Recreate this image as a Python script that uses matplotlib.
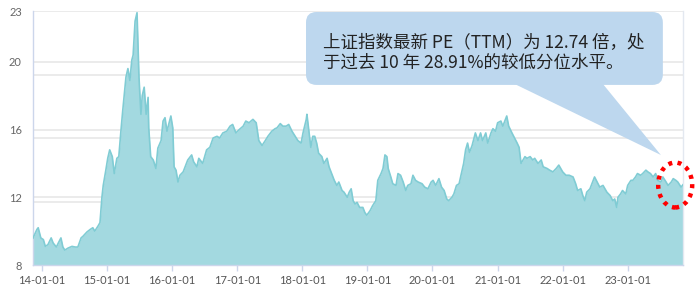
import numpy as np
import pandas as pd
import matplotlib
matplotlib.use("Agg")
import matplotlib.pyplot as plt
import matplotlib.dates as mdates
from matplotlib.patches import FancyBboxPatch, Polygon, Ellipse

# ---------------- data (decimal year, PE TTM) ----------------
t_year = [
    2013.86, 2013.92, 2013.94, 2013.98, 2014.02, 2014.05, 2014.09, 2014.14, 2014.17, 2014.22,
    2014.25, 2014.29, 2014.32, 2014.35, 2014.40, 2014.46, 2014.51, 2014.55, 2014.60, 2014.63,
    2014.69, 2014.74, 2014.78, 2014.81, 2014.86, 2014.89, 2014.92, 2014.94, 2014.98, 2015.01,
    2015.04, 2015.08, 2015.11, 2015.15, 2015.18, 2015.21, 2015.24, 2015.29, 2015.32, 2015.35,
    2015.38, 2015.40, 2015.43, 2015.46, 2015.49, 2015.52, 2015.54, 2015.57,
    2015.60, 2015.63, 2015.64, 2015.67, 2015.71, 2015.75, 2015.78, 2015.83, 2015.86, 2015.89,
    2015.92, 2015.95, 2015.98, 2016.01, 2016.03, 2016.06, 2016.09, 2016.12, 2016.17, 2016.20,
    2016.24, 2016.30, 2016.33, 2016.38, 2016.41, 2016.47, 2016.53, 2016.58, 2016.63, 2016.69,
    2016.73, 2016.78, 2016.84, 2016.89, 2016.93, 2016.98, 2017.03, 2017.09, 2017.13, 2017.18,
    2017.24,
    2017.29, 2017.33, 2017.38, 2017.43, 2017.47, 2017.53, 2017.58, 2017.61, 2017.66, 2017.70,
    2017.75, 2017.79, 2017.84, 2017.89, 2017.93, 2017.98, 2018.01, 2018.06, 2018.07, 2018.10,
    2018.13, 2018.16, 2018.19, 2018.22, 2018.25, 2018.30, 2018.33, 2018.38, 2018.41, 2018.45,
    2018.49, 2018.53, 2018.56, 2018.61, 2018.64, 2018.69, 2018.72, 2018.75, 2018.78, 2018.81,
    2018.84, 2018.88, 2018.93,
    2018.96, 2018.99, 2019.04, 2019.08, 2019.13, 2019.16, 2019.21, 2019.24, 2019.27, 2019.30,
    2019.32, 2019.36, 2019.39, 2019.44, 2019.47, 2019.51, 2019.55, 2019.59, 2019.62, 2019.67,
    2019.70, 2019.74, 2019.78, 2019.84, 2019.88, 2019.93, 2019.98, 2020.01, 2020.05, 2020.10,
    2020.14, 2020.18, 2020.22, 2020.25, 2020.30, 2020.33, 2020.37, 2020.41, 2020.45, 2020.48,
    2020.51, 2020.54, 2020.57, 2020.61,
    2020.66, 2020.70, 2020.74, 2020.77, 2020.82, 2020.85, 2020.90, 2020.93, 2020.97, 2021.00,
    2021.05, 2021.08, 2021.14, 2021.17, 2021.22, 2021.26, 2021.30, 2021.33, 2021.36, 2021.39,
    2021.42, 2021.45, 2021.50, 2021.54, 2021.57, 2021.62, 2021.67, 2021.70, 2021.76, 2021.80,
    2021.85, 2021.90, 2021.94, 2022.00, 2022.05, 2022.10, 2022.16, 2022.20, 2022.23, 2022.28,
    2022.31,
    2022.34, 2022.37, 2022.42, 2022.46, 2022.49, 2022.53, 2022.57, 2022.62, 2022.65, 2022.68,
    2022.73, 2022.77, 2022.80, 2022.83, 2022.85, 2022.89, 2022.92, 2022.97, 2023.00, 2023.05,
    2023.08, 2023.12, 2023.15, 2023.20, 2023.23, 2023.28, 2023.31, 2023.35, 2023.39, 2023.43,
    2023.46, 2023.51, 2023.54, 2023.59, 2023.62, 2023.67, 2023.70, 2023.74, 2023.77, 2023.82,
    2023.85,
]
pe_ttm = [
    9.59, 10.1, 10.2, 9.6, 9.5, 9.1, 9.2, 9.6, 9.3, 9.06,
    9.3, 9.6, 9.06, 8.88, 9.0, 9.1, 9.06, 9.06, 9.6, 9.7,
    9.95, 10.1, 10.2, 10.0, 10.3, 10.5, 12.0, 12.7, 13.6, 14.3,
    14.8, 14.4, 13.4, 14.3, 14.4, 15.8, 17.1, 19.1, 19.6, 18.9,
    20.1, 20.4, 22.4, 22.9, 19.1, 16.9, 18.0, 18.5,
    16.9, 17.9, 16.1, 14.4, 14.2, 13.7, 14.9, 15.35, 16.5, 16.7,
    15.9, 16.35, 16.8, 16.1, 13.8, 13.6, 12.9, 13.3, 13.5, 13.8,
    14.2, 14.5, 14.1, 13.8, 14.3, 14.0, 14.8, 14.95, 15.5, 15.6,
    15.5, 15.8, 15.9, 16.2, 16.3, 15.8, 16.0, 16.2, 16.5, 16.4,
    16.6,
    16.4, 15.35, 15.06, 15.35, 15.6, 15.9, 16.05, 16.1, 16.35, 16.2,
    16.2, 16.3, 15.9, 15.6, 15.35, 15.2, 15.8, 16.6, 16.9, 15.9,
    14.95, 15.6, 15.6, 15.2, 14.6, 14.4, 14.0, 14.3, 13.8, 13.4,
    13.0, 12.7, 12.9, 12.4, 12.3, 12.0, 12.3, 12.5, 11.8, 11.6,
    11.7, 11.4, 11.4,
    11.1, 10.94, 11.2, 11.5, 11.8, 13.0, 13.4, 13.7, 14.5, 14.4,
    13.7, 13.2, 12.8, 12.7, 13.4, 13.3, 12.9, 12.4, 12.7, 12.8,
    13.3, 13.0, 12.9, 12.8, 12.6, 12.5, 12.9, 13.0, 12.7, 13.1,
    12.6, 12.4, 11.9, 11.8, 12.0, 12.2, 12.7, 12.8, 13.5, 14.0,
    14.8, 15.2, 14.65, 15.06,
    15.8, 15.35, 15.8, 15.35, 15.8, 15.2, 15.8, 16.05, 15.9, 16.4,
    16.5, 16.2, 16.8, 16.2, 15.8, 15.5, 15.2, 14.95, 14.0, 14.2,
    14.4, 14.3, 14.4, 14.2, 14.3, 14.0, 14.2, 13.8, 13.7, 13.6,
    13.5, 13.7, 13.9, 13.5, 13.3, 13.3, 13.2, 12.8, 12.4, 12.5,
    12.1,
    11.8, 12.3, 12.5, 12.9, 13.2, 12.9, 12.6, 12.7, 12.5, 12.3,
    12.1, 11.8, 11.9, 11.4, 12.0, 12.2, 12.4, 12.2, 12.7, 13.0,
    13.0, 13.2, 13.4, 13.3, 13.4, 13.6, 13.5, 13.4, 13.2, 13.4,
    13.0, 12.9, 13.2, 12.9, 12.7, 12.9, 13.1, 13.0, 12.9, 12.6,
    12.74,
]
y_ticks = [8, 12, 16, 20, 23]
x_tick_years = list(range(2014, 2024))
callout_lines = ["上证指数最新 PE（TTM）为 12.74 倍，处",
                 "于过去 10 年 28.91%的较低分位水平。"]


def frac_to_date(y):
    yr = int(np.floor(y))
    return pd.Timestamp(yr, 1, 1) + pd.Timedelta(days=(y - yr) * 365.25)


dates = [frac_to_date(y) for y in t_year]

# ---------------- figure ----------------
fig = plt.figure(figsize=(7.0, 2.92), dpi=100)
ax = fig.add_axes([33 / 700, 27 / 292, 650 / 700, 254 / 292])

ymin, ymax = y_ticks[0], y_ticks[-1]
ax.set_ylim(ymin, ymax)
ax.set_xlim(dates[0], dates[-1])

# grid lines (primary ticks + secondary 4-way division)
grid_c = "#e6e6e6"
for lv in y_ticks[1:]:
    ax.axhline(lv, color=grid_c, lw=1.1, zorder=0)
for lv in np.linspace(ymin, ymax, 5)[1:-1]:
    ax.axhline(lv, color=grid_c, lw=1.1, zorder=0)

ax.fill_between(dates, ymin, pe_ttm, color="#a3d9e0", lw=0, zorder=2)
ax.plot(dates, pe_ttm, color="#80ccd4", lw=1.2, zorder=3)

ax.set_yticks(y_ticks)
ax.set_xticks([pd.Timestamp(y, 1, 1) for y in x_tick_years])
ax.xaxis.set_major_formatter(mdates.DateFormatter("%y-%m-%d"))
ax.tick_params(axis="y", length=0, pad=8, labelsize=8, labelcolor="#666666")
ax.tick_params(axis="x", length=4, width=1, color="#ccd6eb", pad=3,
               labelsize=8, labelcolor="#555555")
for lab in ax.get_xticklabels() + ax.get_yticklabels():
    lab.set_family("Lato")

for s in ["left", "bottom"]:
    ax.spines[s].set_color("#ccd6eb")
    ax.spines[s].set_linewidth(1)
ax.spines["right"].set_color("#e3e8f0")
ax.spines["right"].set_linewidth(1)
ax.spines["top"].set_visible(False)

# ---------------- callout ----------------
box_c = "#bdd7ee"
asp = 650 / 254
box = FancyBboxPatch((0.42, 0.709), 0.549, 0.287,
                     boxstyle="round,pad=0,rounding_size=0.016",
                     mutation_aspect=asp, transform=ax.transAxes,
                     facecolor=box_c, edgecolor="none", zorder=5, clip_on=False)
ax.add_patch(box)
wedge = Polygon([(0.7415, 0.712), (0.877, 0.712), (0.966, 0.433)],
                closed=True, transform=ax.transAxes, facecolor=box_c,
                edgecolor="none", zorder=5, clip_on=False)
ax.add_patch(wedge)

cjk = ["Noto Sans CJK SC", "DejaVu Sans"]
ax.text(0.446, 0.874, callout_lines[0], transform=ax.transAxes, fontsize=12.6,
        family=cjk, color="#222222", va="center", ha="left", zorder=6)
ax.text(0.446, 0.795, callout_lines[1], transform=ax.transAxes, fontsize=12.6,
        family=cjk, color="#222222", va="center", ha="left", zorder=6)

ell = Ellipse((0.988, 0.315), 0.0523, 0.177, transform=ax.transAxes,
              fill=False, edgecolor="#ff0000", lw=3.2, linestyle=(0, (0.9, 1.2)),
              zorder=7, clip_on=False)
ax.add_patch(ell)

fig.savefig("out.png", dpi=100)
